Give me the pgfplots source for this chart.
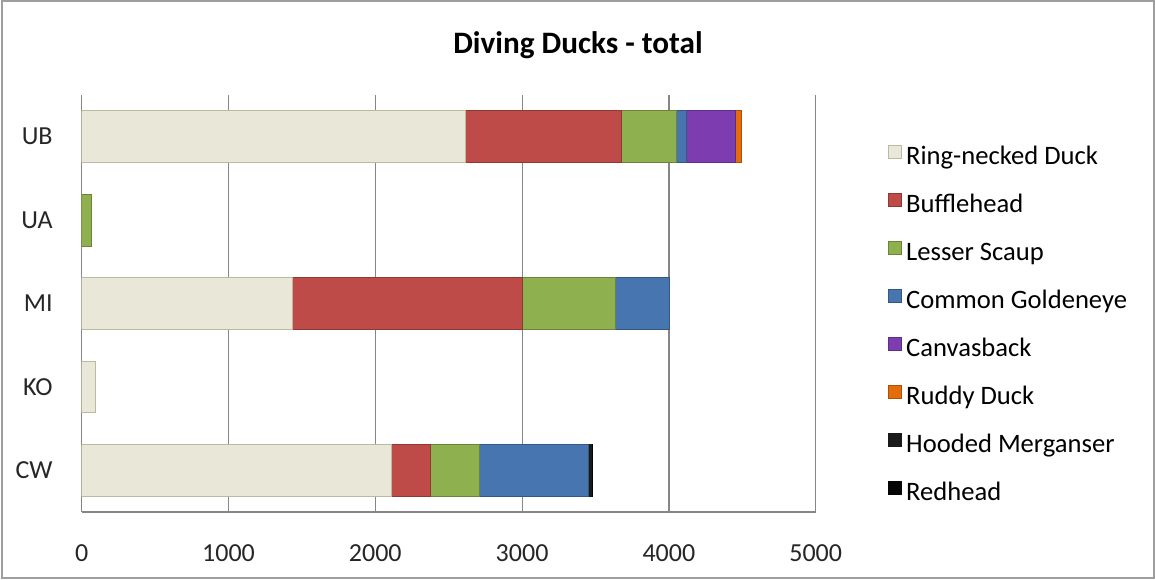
\documentclass[border=0pt]{standalone}
\usepackage{fontspec}
\setmainfont{Carlito}
\usepackage{pgfplots}
\pgfplotsset{compat=1.18}

% Series colours
\definecolor{ringc}{HTML}{E9E7D7}
\definecolor{ringd}{HTML}{BDB8A0}
\definecolor{buffc}{HTML}{BE4B48}
\definecolor{scaupc}{HTML}{8FB04E}
\definecolor{goldc}{HTML}{4675AF}
\definecolor{canvc}{HTML}{7D3CB0}
\definecolor{ruddyc}{HTML}{E46C0A}
\definecolor{hoodc}{HTML}{1A1A1A}
\definecolor{redhc}{HTML}{050505}
\definecolor{gridc}{HTML}{868686}

\begin{document}
\begin{tikzpicture}
\useasboundingbox (0,0) rectangle (577.5pt,289.5pt);
\draw[gridc!80, line width=1pt] (0.75pt,0.75pt) rectangle (576.75pt,288.75pt);

\node[font=\bfseries\fontsize{15.6}{18}\selectfont] at (289pt,267pt) {Diving Ducks - total};

\begin{axis}[
  at={(40.85pt,33.5pt)}, anchor=south west,
  scale only axis,
  width=367pt, height=208.5pt,
  xbar stacked,
  bar width=0.62,
  xmin=0, xmax=5000,
  ymin=-0.5, ymax=4.5,
  enlarge x limits=false,
  xtick={0,1000,...,5000},
  ytick={0,1,2,3,4},
  yticklabels={CW,KO,MI,UA,UB},
  xmajorgrids,
  grid style={gridc, line width=0.6pt},
  axis x line=bottom, axis y line=left,
  axis line style={-, gridc, line width=0.6pt},
  major tick length=0pt,
  xticklabel shift=13pt,
  yticklabel shift=11pt,
  tick label style={font=\fontsize{13}{15}\selectfont, text=black!85},
  /pgf/number format/assume math mode=true,
  scaled x ticks=false,
  xticklabel={\pgfmathprintnumber[fixed,1000 sep={}]{\tick}},
  legend cell align=left,
  legend style={
    at={(1.0985,0.8825)}, anchor=north west,
    draw=none, fill=none, inner sep=0pt,
    font=\fontsize{13.3}{15}\selectfont,
    row sep=11pt, column sep=2pt,
    nodes={inner sep=0pt, text height=10pt, text depth=3pt},
  },
  legend image code/.code={\fill[#1] (0pt,-0.5pt) rectangle (6.5pt,6pt);},
]
\addplot[fill=ringc, draw=ringd, line width=0.4pt]
  coordinates {(2113,0) (95,1) (1433,2) (0,3) (2613,4)};
\addlegendentry{Ring-necked Duck}
\addplot[fill=buffc, draw=buffc!75!black, line width=0.4pt]
  coordinates {(261,0) (0,1) (1568,2) (0,3) (1063,4)};
\addlegendentry{Bufflehead}
\addplot[fill=scaupc, draw=scaupc!75!black, line width=0.4pt]
  coordinates {(334,0) (0,1) (634,2) (65,3) (375,4)};
\addlegendentry{Lesser Scaup}
\addplot[fill=goldc, draw=goldc!75!black, line width=0.4pt]
  coordinates {(745,0) (0,1) (365,2) (0,3) (68,4)};
\addlegendentry{Common Goldeneye}
\addplot[fill=canvc, draw=canvc!75!black, line width=0.4pt]
  coordinates {(0,0) (0,1) (0,2) (0,3) (334,4)};
\addlegendentry{Canvasback}
\addplot[fill=ruddyc, draw=ruddyc!75!black, line width=0.4pt]
  coordinates {(0,0) (0,1) (0,2) (0,3) (41,4)};
\addlegendentry{Ruddy Duck}
\addplot[fill=hoodc, draw=hoodc, line width=0.4pt]
  coordinates {(20,0) (0,1) (0,2) (0,3) (0,4)};
\addlegendentry{Hooded Merganser}
\addplot[fill=redhc, draw=redhc, line width=0.4pt]
  coordinates {(3,0) (0,1) (0,2) (0,3) (0,4)};
\addlegendentry{Redhead}
\end{axis}
\end{tikzpicture}
\end{document}
